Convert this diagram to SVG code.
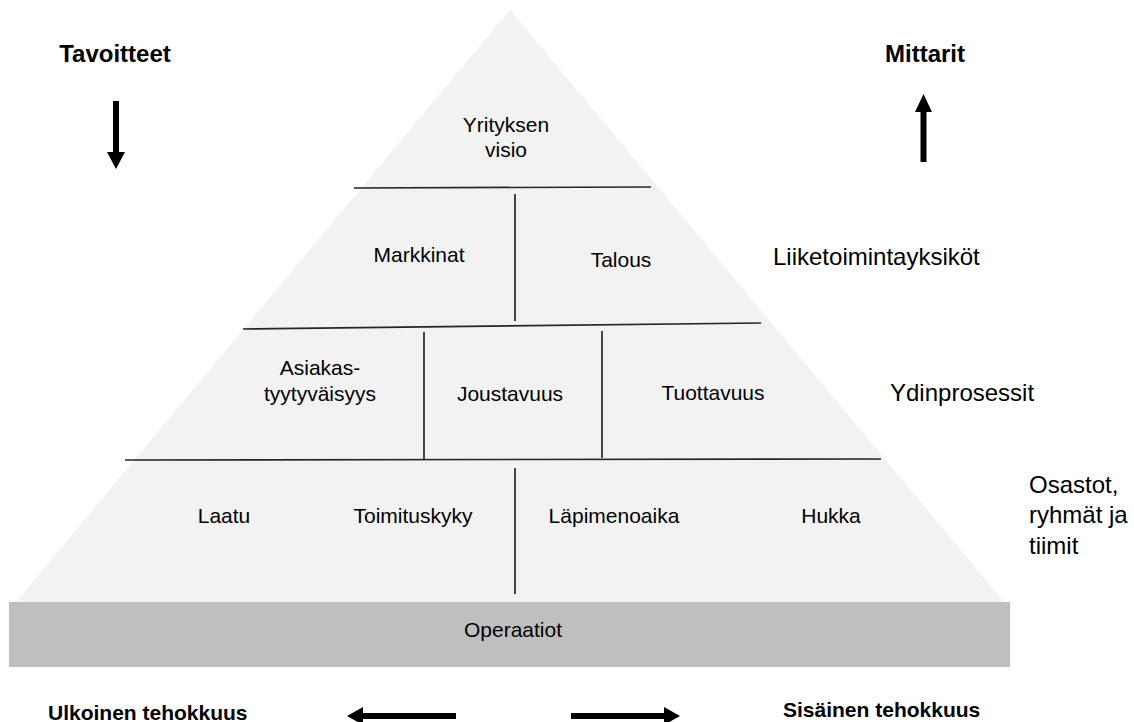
<svg xmlns="http://www.w3.org/2000/svg" width="1134" height="722" viewBox="0 0 1134 722">
<style>
text{font-family:"Liberation Sans",Arial,sans-serif;fill:#000}
.in{font-size:21px;text-anchor:middle}
.side{font-size:24px}
.hd{font-size:24px;font-weight:bold;text-anchor:middle}
.ft{font-size:21px;font-weight:bold}
.div{stroke:#262626;stroke-width:1.7;fill:none}
.arr{fill:#000;stroke:none}
</style>
<rect width="1134" height="722" fill="#fff"/>
<g id="pyramid">
<polygon points="510,10 16,602 1004,602" fill="#f2f2f2"/>
<rect x="9" y="602" width="1001" height="65" fill="#bfbfbf"/>
</g>
<g id="dividers">
<line class="div" x1="354" y1="188" x2="651" y2="187"/>
<line class="div" x1="515" y1="194" x2="515" y2="321"/>
<line class="div" x1="243" y1="329" x2="761" y2="323"/>
<line class="div" x1="424" y1="332" x2="424" y2="459"/>
<line class="div" x1="602" y1="331" x2="602" y2="458"/>
<line class="div" x1="125" y1="460" x2="881" y2="459"/>
<line class="div" x1="515" y1="468" x2="515" y2="594"/>
</g>
<g id="node-visio"><text class="in" x="506" y="132">Yrityksen</text><text class="in" x="506" y="157">visio</text></g>
<g id="node-markkinat"><text class="in" x="419" y="262">Markkinat</text></g>
<g id="node-talous"><text class="in" x="621" y="267">Talous</text></g>
<g id="node-asiakas"><text class="in" x="320" y="375">Asiakas-</text><text class="in" x="320" y="401">tyytyväisyys</text></g>
<g id="node-joustavuus"><text class="in" x="510" y="401">Joustavuus</text></g>
<g id="node-tuottavuus"><text class="in" x="713" y="400">Tuottavuus</text></g>
<g id="node-laatu"><text class="in" x="224" y="523">Laatu</text></g>
<g id="node-toimituskyky"><text class="in" x="413" y="523">Toimituskyky</text></g>
<g id="node-lapimenoaika"><text class="in" x="614" y="523">Läpimenoaika</text></g>
<g id="node-hukka"><text class="in" x="831" y="523">Hukka</text></g>
<g id="node-operaatiot"><text class="in" x="513" y="637">Operaatiot</text></g>
<g id="label-tavoitteet"><text class="hd" x="115" y="62">Tavoitteet</text></g>
<g id="label-mittarit"><text class="hd" x="925" y="62">Mittarit</text></g>
<g id="label-liiketoiminta"><text class="side" x="773" y="265">Liiketoimintayksiköt</text></g>
<g id="label-ydin"><text class="side" x="890" y="401">Ydinprosessit</text></g>
<g id="label-osastot"><text class="side" x="1029" y="493">Osastot,</text><text class="side" x="1029" y="523">ryhmät ja</text><text class="side" x="1029" y="554">tiimit</text></g>
<g id="label-ulkoinen"><text class="ft" x="48" y="720">Ulkoinen tehokkuus</text></g>
<g id="label-sisainen"><text class="ft" x="783" y="717">Sisäinen tehokkuus</text></g>
<g id="connectors">
<path class="arr" d="M113,101 H119 V152 H125 L116,169 L107,152 H113 Z"/>
<path class="arr" d="M920.5,162 H926.5 V112 H932 L923.5,94 L915,112 H920.5 Z"/>
<path class="arr" d="M456,713 V719 H363 V725 L347,716 L363,707 V713 Z"/>
<path class="arr" d="M571,713 V719 H664 V725 L680,716 L664,707 V713 Z"/>
</g>
</svg>
